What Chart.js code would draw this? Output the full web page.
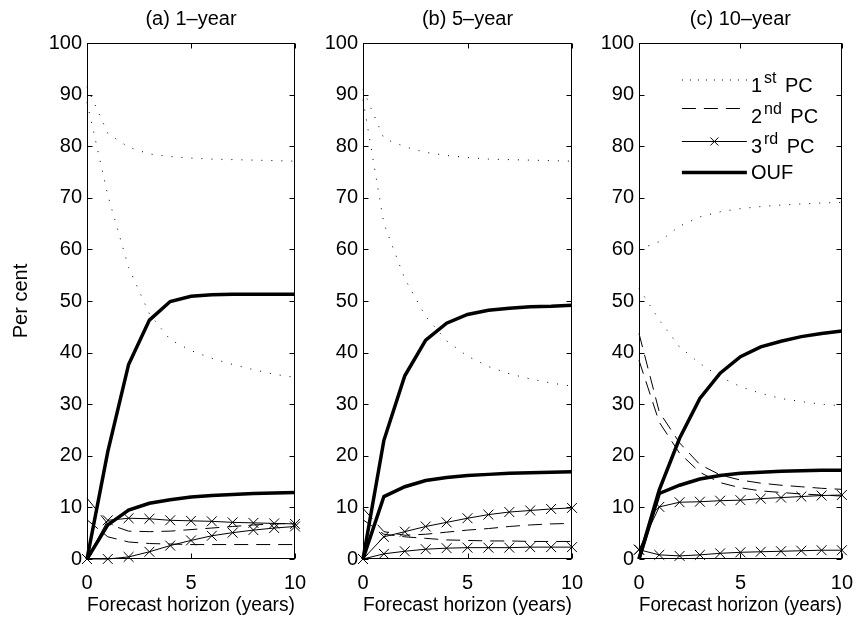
<!DOCTYPE html>
<html>
<head>
<meta charset="utf-8">
<script src="https://cdn.jsdelivr.net/npm/chart.js@4.4.1/dist/chart.umd.min.js"></script>
<style>
  body { margin: 0; background: #fff; }
  #wrap { position: relative; width: 865px; height: 620px; }
  canvas { position: absolute; top: 0; }
</style>
</head>
<body>
<div id="wrap">
  <canvas id="chartA" width="320" height="620" style="left:0px"></canvas>
  <canvas id="chartB" width="300" height="620" style="left:300px"></canvas>
  <canvas id="chartC" width="285" height="620" style="left:580px"></canvas>
</div>
<script>
// Forecast horizon (years)
const horizon = [0, 1, 2, 3, 4, 5, 6, 7, 8, 9, 10];
const xTicks = [0, 5, 10];
const yTicks = [0, 10, 20, 30, 40, 50, 60, 70, 80, 90, 100];

// (a) 1-year
const pc1HiA = [91.5, 82.5, 79.8, 78.5, 78.0, 77.7, 77.5, 77.4, 77.3, 77.2, 77.1];
const pc1LoA = [88.5, 70.5, 56.5, 47.5, 42.5, 40.4, 38.9, 37.7, 36.7, 35.8, 35.2];
const pc2HiA = [11.8, 6.8, 5.4, 5.3, 5.4, 5.7, 6.0, 6.3, 6.6, 6.8, 6.9];
const pc2LoA = [7.6, 4.3, 3.3, 3.0, 2.9, 2.8, 2.8, 2.8, 2.8, 2.8, 2.8];
const pc3HiA = [0, 7.5, 7.9, 7.8, 7.5, 7.4, 7.3, 7.1, 7.0, 6.9, 6.8];
const pc3LoA = [0, 0, 0.4, 1.4, 2.6, 3.6, 4.5, 5.1, 5.6, 6.0, 6.3];
const oufHiA = [0, 20.8, 37.7, 46.3, 49.9, 50.9, 51.2, 51.3, 51.3, 51.3, 51.3];
const oufLoA = [0, 6.6, 9.5, 10.8, 11.5, 12.0, 12.3, 12.5, 12.7, 12.8, 12.9];

// (b) 5-year
const pc1HiB = [91.0, 81.5, 79.9, 78.8, 78.2, 77.8, 77.5, 77.4, 77.3, 77.2, 77.1];
const pc1LoB = [89.0, 65.0, 54.3, 47.0, 42.3, 39.3, 37.3, 35.9, 34.9, 34.1, 33.5];
const pc2HiB = [9.8, 5.3, 4.6, 4.8, 5.2, 5.6, 5.9, 6.3, 6.6, 6.8, 6.9];
const pc2LoB = [7.6, 4.8, 4.3, 4.0, 3.7, 3.6, 3.5, 3.5, 3.4, 3.4, 3.4];
const pc3HiB = [0, 4.3, 5.3, 6.3, 7.1, 7.9, 8.6, 9.1, 9.4, 9.7, 9.9];
const pc3LoB = [0, 1.0, 1.5, 1.9, 2.1, 2.2, 2.2, 2.2, 2.3, 2.3, 2.3];
const oufHiB = [0, 23.0, 35.5, 42.4, 45.7, 47.4, 48.2, 48.6, 48.9, 49.0, 49.2];
const oufLoB = [0, 12.1, 14.0, 15.2, 15.8, 16.2, 16.4, 16.6, 16.7, 16.8, 16.9];

// (c) 10-year
const pc1HiC = [60.0, 61.5, 64.5, 66.3, 67.3, 67.9, 68.3, 68.6, 68.8, 69.0, 69.1];
const pc1LoC = [52.5, 46.3, 41.1, 37.9, 35.3, 33.4, 32.1, 31.1, 30.5, 30.0, 29.7];
const pc2HiC = [43.7, 28.5, 22.5, 18.3, 16.3, 15.3, 14.7, 14.3, 14.0, 13.7, 13.5];
const pc2LoC = [38.5, 26.5, 20.5, 16.8, 14.8, 13.8, 13.2, 12.9, 12.6, 12.4, 12.2];
const pc3HiC = [1.8, 10.1, 11.0, 11.1, 11.3, 11.4, 11.7, 11.9, 12.1, 12.3, 12.4];
const pc3LoC = [1.8, 0.8, 0.6, 0.8, 1.1, 1.3, 1.4, 1.5, 1.6, 1.7, 1.7];
const oufHiC = [0, 13.4, 23.4, 31.1, 36.0, 39.2, 41.1, 42.2, 43.1, 43.7, 44.2];
const oufLoC = [0, 12.7, 14.3, 15.5, 16.2, 16.6, 16.8, 17.0, 17.1, 17.2, 17.2];

// legend text: [main, superscript, rest]
const legendLabels = [["1", "st", " PC"], ["2", "nd", " PC"], ["3", "rd", " PC"], ["OUF", "", ""]];
const legendKinds = ["pc1", "pc2", "pc3", "ouf"];

const FONT = '"Liberation Sans", Arial, Helvetica, sans-serif';
Chart.defaults.font.family = FONT;
Chart.defaults.font.size = 20;
Chart.defaults.color = "#000";

// line style per series kind
const styles = {
    pc1: { borderWidth: 1, borderDash: [1, 9], pointRadius: 0 },
    pc2: { borderWidth: 1, borderDash: [14, 8], pointRadius: 0 },
    pc3: { borderWidth: 1, pointStyle: "crossRot", pointRadius: 7, pointBorderWidth: 1 },
    ouf: { borderWidth: 3.5, pointRadius: 0 }
};

function toPoints(values) {
    return horizon.map((x, i) => ({ x: x, y: values[i] }));
}

function makeDatasets(list) {
    return list.map(([kind, values]) => Object.assign({
        data: toPoints(values),
        borderColor: "#000",
        backgroundColor: "#000",
        pointBorderColor: "#000",
        tension: 0,
        clip: false,
        fill: false
    }, styles[kind]));
}

// box + inward tick marks, matlab style
const framePlugin = {
    id: "frame",
    afterDatasetsDraw(chart) {
        const { ctx, chartArea: a, scales } = chart;
        const L = Math.round(a.left) + 0.5, R = Math.round(a.right) - 0.5;
        const T = Math.round(a.top) + 0.5, B = Math.round(a.bottom) - 0.5;
        ctx.save();
        ctx.strokeStyle = "#000";
        ctx.lineWidth = 1;
        ctx.setLineDash([]);
        ctx.strokeRect(L, T, R - L, B - T);
        ctx.beginPath();
        yTicks.forEach(v => {
            const py = Math.round(scales.y.getPixelForValue(v)) + 0.5;
            ctx.moveTo(L, py); ctx.lineTo(L + 5, py);
            ctx.moveTo(R, py); ctx.lineTo(R - 5, py);
        });
        xTicks.forEach(v => {
            const px = Math.round(scales.x.getPixelForValue(v)) + 0.5;
            ctx.moveTo(px, B); ctx.lineTo(px, B - 5);
            ctx.moveTo(px, T); ctx.lineTo(px, T + 5);
        });
        ctx.stroke();
        ctx.restore();
    }
};

// legend inside panel (c), no box
const legendPlugin = {
    id: "pcLegend",
    afterDraw(chart) {
        if (!chart.options.plugins.pcLegend) return;
        const { ctx, chartArea: a } = chart;
        const x0 = a.right - 160, x1 = a.right - 95, tx = a.right - 91;
        const lineY = [37, 65.5, 98.5, 129.5];
        const textY = [41.5, 73, 103, 129];
        ctx.save();
        legendKinds.forEach((kind, i) => {
            const s = styles[kind];
            const y = a.top + lineY[i];
            ctx.strokeStyle = "#000";
            ctx.lineWidth = s.borderWidth;
            ctx.setLineDash(kind === "pc1" ? [1, 7] : (s.borderDash || []));
            ctx.beginPath();
            ctx.moveTo(x0, y); ctx.lineTo(x1, y);
            ctx.stroke();
            ctx.setLineDash([]);
            if (kind === "pc3") {
                const cx = (x0 + x1) / 2, r = 4;
                ctx.lineWidth = 1;
                ctx.beginPath();
                ctx.moveTo(cx - r, y - r); ctx.lineTo(cx + r, y + r);
                ctx.moveTo(cx - r, y + r); ctx.lineTo(cx + r, y - r);
                ctx.stroke();
            }
            const [main, sup, rest] = legendLabels[i];
            const base = a.top + textY[i] + 7;
            ctx.fillStyle = "#000";
            ctx.textBaseline = "alphabetic";
            ctx.textAlign = "left";
            ctx.font = "20px " + FONT;
            ctx.fillText(main, tx, base);
            let cx = tx + ctx.measureText(main).width;
            if (sup) {
                ctx.font = "16px " + FONT;
                ctx.fillText(sup, cx + 2, base - 9);
                cx += ctx.measureText(sup).width + 5;
                ctx.font = "20px " + FONT;
            }
            if (rest) ctx.fillText(rest, cx, base);
        });
        ctx.restore();
    }
};

function makePanel(id, title, series, yWidth, padRight, showYTitle, showLegend) {
    return new Chart(document.getElementById(id), {
        type: "line",
        data: { datasets: makeDatasets(series) },
        options: {
            responsive: false,
            animation: false,
            events: [],
            layout: { padding: { left: 0, right: padRight, top: 0, bottom: 0 } },
            plugins: {
                legend: { display: false },
                tooltip: { enabled: false },
                title: { display: false },
                pcLegend: showLegend
            },
            scales: {
                x: {
                    type: "linear",
                    min: 0,
                    max: 10,
                    grid: { display: false, drawTicks: false },
                    border: { display: false },
                    ticks: { stepSize: 5, padding: 12, maxRotation: 0 },
                    title: {
                        display: true,
                        text: "Forecast horizon (years)",
                        font: { size: 20 },
                        padding: { top: 0, bottom: 2.5 }
                    },
                    afterFit(scale) { scale.height = 61; }
                },
                // top axis only carries the panel title, centred over the plot
                xTop: {
                    type: "linear",
                    position: "top",
                    min: 0,
                    max: 10,
                    grid: { display: false, drawTicks: false },
                    border: { display: false },
                    ticks: { display: false },
                    title: {
                        display: true,
                        text: title,
                        font: { size: 20 },
                        padding: { top: 7, bottom: 0 }
                    },
                    afterFit(scale) { scale.height = 43; }
                },
                y: {
                    min: 0,
                    max: 100,
                    grid: { display: false, drawTicks: false },
                    border: { display: false },
                    ticks: { stepSize: 10, padding: 5 },
                    title: {
                        display: showYTitle,
                        text: "Per cent",
                        font: { size: 20 },
                        padding: { top: 9, bottom: 0 }
                    },
                    afterFit(scale) { scale.width = yWidth; }
                }
            }
        },
        plugins: [framePlugin, legendPlugin]
    });
}

makePanel("chartA", "(a) 1\u2013year", [
    ["pc1", pc1HiA], ["pc1", pc1LoA], ["pc2", pc2HiA], ["pc2", pc2LoA],
    ["pc3", pc3HiA], ["pc3", pc3LoA], ["ouf", oufHiA], ["ouf", oufLoA]
], 87, 25, true, false);

makePanel("chartB", "(b) 5\u2013year", [
    ["pc1", pc1HiB], ["pc1", pc1LoB], ["pc2", pc2HiB], ["pc2", pc2LoB],
    ["pc3", pc3HiB], ["pc3", pc3LoB], ["ouf", oufHiB], ["ouf", oufLoB]
], 63, 28, false, false);

makePanel("chartC", "(c) 10\u2013year", [
    ["pc1", pc1HiC], ["pc1", pc1LoC], ["pc2", pc2HiC], ["pc2", pc2LoC],
    ["pc3", pc3HiC], ["pc3", pc3LoC], ["ouf", oufHiC], ["ouf", oufLoC]
], 59, 17, false, true);
</script>
</body>
</html>
